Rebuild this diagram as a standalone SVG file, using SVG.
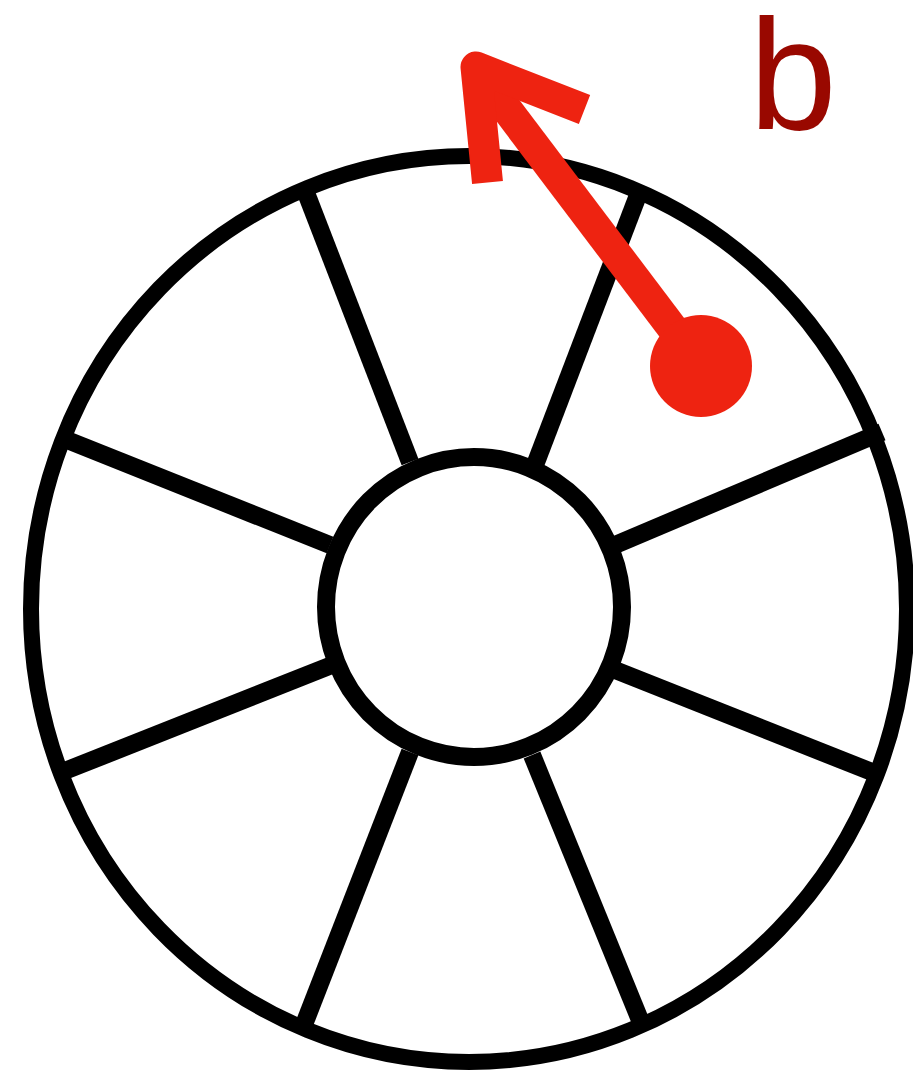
<svg xmlns="http://www.w3.org/2000/svg" width="913" height="1075" viewBox="0 0 913 1075">
  <style>
    .rim { fill: none; stroke: #000; stroke-width: 16; }
    .hub { fill: #fff; stroke: #000; stroke-width: 18; }
    .spoke { stroke: #000; stroke-width: 18; stroke-linecap: butt; }
    .arrow { fill: none; stroke: #EE2311; stroke-width: 31; stroke-linejoin: round; stroke-linecap: butt; }
    .label { font-family: "Liberation Sans", Arial, sans-serif; font-size: 158px; fill: #990800; }
  </style>
  <rect width="913" height="1075" fill="#fff"/>
  <g id="wheel">
    <g id="spokes">
      <line class="spoke" x1="303" y1="185" x2="410" y2="462"/>
      <line class="spoke" x1="640" y1="190" x2="535" y2="465"/>
      <line class="spoke" x1="62" y1="438" x2="330" y2="545"/>
      <line class="spoke" x1="62" y1="772" x2="332" y2="665"/>
      <line class="spoke" x1="882" y1="432" x2="615" y2="545"/>
      <line class="spoke" x1="882" y1="776" x2="615" y2="670"/>
      <line class="spoke" x1="410" y1="752" x2="305" y2="1022"/>
      <line class="spoke" x1="532" y1="755" x2="640" y2="1020"/>
    </g>
    <ellipse id="rim" class="rim" cx="469" cy="609" rx="438" ry="453"/>
    <ellipse id="hub" class="hub" cx="474" cy="607" rx="148" ry="150"/>
  </g>
  <g id="arrow-b">
    <line class="arrow" x1="701" y1="366" x2="478" y2="71"/>
    <polyline class="arrow" points="487.5,182.5 476,67 584.5,109.5"/>
    <circle cx="701" cy="366" r="51" fill="#EE2311"/>
  </g>
  <text id="label-b" class="label" x="749" y="129">b</text>
</svg>
